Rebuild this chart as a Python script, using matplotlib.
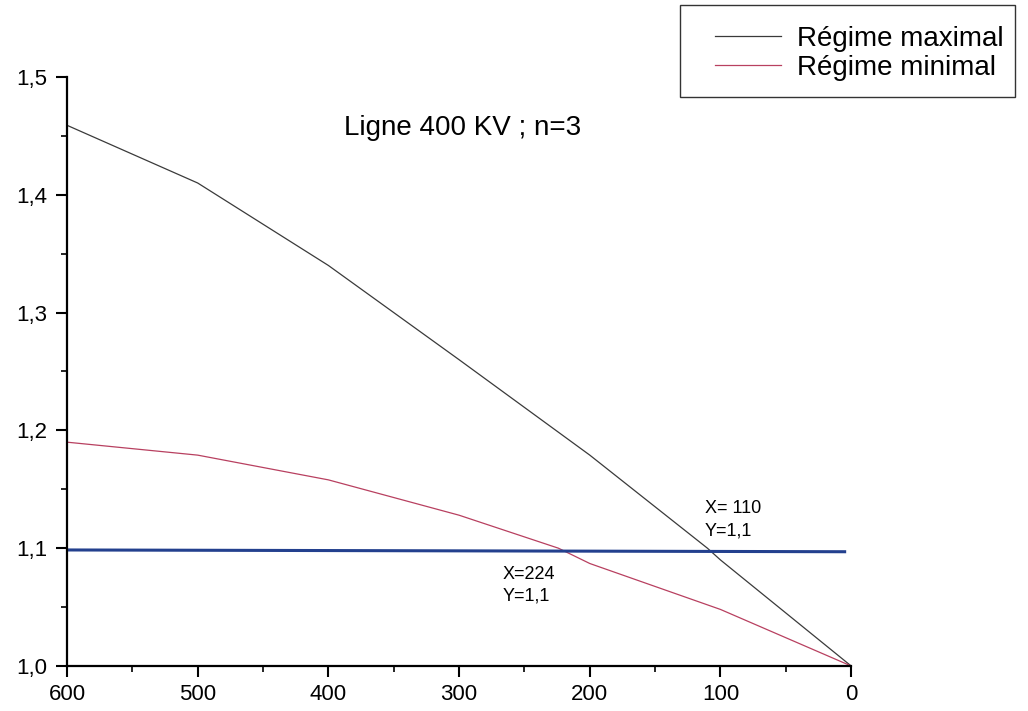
import matplotlib.pyplot as plt
from matplotlib.patches import Rectangle
from matplotlib.ticker import MultipleLocator, FuncFormatter

# ----------------------------------
# Data
# ----------------------------------
x_max = [600, 500, 400, 300, 200, 110, 100, 0]
y_max = [1.459, 1.410, 1.340, 1.260, 1.179, 1.100, 1.090, 1.000]

x_min = [600, 500, 400, 300, 224, 200, 100, 0]
y_min = [1.190, 1.179, 1.158, 1.128, 1.100, 1.087, 1.048, 1.000]

x_ref = [600, 5]
y_ref = [1.0985, 1.097]

plt.rcParams["font.family"] = ["Liberation Sans", "DejaVu Sans"]

fig = plt.figure(figsize=(10.28, 7.11), dpi=100)
ax = fig.add_axes([0.0652, 0.0633, 0.7628, 0.8284])

l1, = ax.plot(x_max, y_max, color="#3a3a3a", lw=0.9, label="Régime maximal")
l2, = ax.plot(x_min, y_min, color="#b84060", lw=0.9, label="Régime minimal")
ax.plot(x_ref, y_ref, color="#23408e", lw=2.2)

ax.set_xlim(600, 0)
ax.set_ylim(1.0, 1.5)
ax.xaxis.set_major_locator(MultipleLocator(100))
ax.xaxis.set_minor_locator(MultipleLocator(50))
ax.yaxis.set_major_locator(MultipleLocator(0.1))
ax.yaxis.set_minor_locator(MultipleLocator(0.05))
ax.yaxis.set_major_formatter(FuncFormatter(lambda v, p: f"{v:.1f}".replace(".", ",")))

for s in ["top", "right"]:
    ax.spines[s].set_visible(False)
for s in ["left", "bottom"]:
    ax.spines[s].set_linewidth(1.6)
ax.tick_params(which="major", length=8, width=1.5, labelsize=16, direction="out")
ax.tick_params(which="minor", length=4, width=1.2, direction="out")
ax.tick_params(axis="y", pad=6)
ax.tick_params(axis="x", pad=5)

ax.text(388, 1.457, "Ligne 400 KV ; n=3", fontsize=20, ha="left", va="center")
ax.text(112, 1.134, "X= 110", fontsize=13, ha="left", va="center")
ax.text(112, 1.115, "Y=1,1", fontsize=13, ha="left", va="center")
ax.text(267, 1.078, "X=224", fontsize=13, ha="left", va="center")
ax.text(267, 1.059, "Y=1,1", fontsize=13, ha="left", va="center")

# legend without its own frame, box drawn separately (wider left margin)
fig.legend(handles=[l1, l2], loc="upper left", bbox_to_anchor=(0.679, 0.987),
           borderaxespad=0, fontsize=20, frameon=False,
           handlelength=2.4, borderpad=0.6, labelspacing=0.1, handletextpad=0.55)
fig.patches.append(Rectangle((0.6615, 0.8636), 0.326, 0.1294, transform=fig.transFigure,
                             fill=False, edgecolor="#333333", lw=1.0))

fig.savefig("out.png", dpi=100)
